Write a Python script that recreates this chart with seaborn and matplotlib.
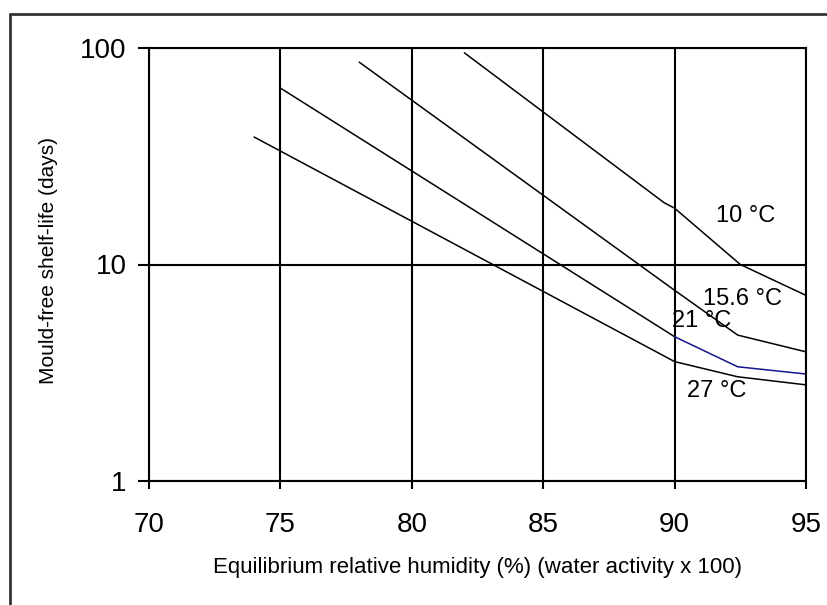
import matplotlib
matplotlib.use("Agg")
import matplotlib.pyplot as plt
from matplotlib.lines import Line2D
import seaborn as sns
import pandas as pd

# data
erh_10 = [82.0, 89.6, 90.0, 92.5, 95.0]
life_10 = [95.0, 19.3, 18.2, 10.0, 7.2]
erh_156 = [78.0, 90.0, 92.4, 95.0]
life_156 = [86.0, 7.6, 4.72, 3.95]
erh_21 = [75.0, 90.0, 92.4, 95.0]
life_21 = [65.3, 4.64, 3.37, 3.12]
erh_27 = [74.0, 90.0, 92.4, 95.0]
life_27 = [38.8, 3.56, 3.03, 2.78]

labels = ["10 °C", "15.6 °C", "21 °C", "27 °C"]
label_x = [92.72, 92.60, 91.04, 91.61]
label_y = [16.75, 6.93, 5.48, 2.60]

x_ticks = [70, 75, 80, 85, 90, 95]
y_ticks = [1, 10, 100]

sns.set_style("white")
plt.rcParams["font.family"] = ["Liberation Sans", "DejaVu Sans"]
plt.rcParams["text.color"] = "black"
plt.rcParams["axes.labelcolor"] = "black"

fig = plt.figure(figsize=(8.28, 6.05), dpi=100)
ax = fig.add_axes([149/828, 1-481/605, (806-149)/828, (481-48)/605])

def draw(xs, ys, color):
    df = pd.DataFrame({"x": xs, "y": ys})
    sns.lineplot(data=df, x="x", y="y", ax=ax, color=color, lw=1.1,
                 sort=False, estimator=None)

draw(erh_10, life_10, "black")
draw(erh_156, life_156, "black")
draw(erh_21[:2], life_21[:2], "black")
draw(erh_21[1:], life_21[1:], "#14148c")
draw(erh_27, life_27, "black")

ax.set_yscale("log")
ax.set_xlim(70, 95)
ax.set_ylim(1, 100)
ax.set_xticks(x_ticks)
ax.set_xticklabels([str(v) for v in x_ticks])
ax.set_yticks(y_ticks)
ax.set_yticklabels([str(v) for v in y_ticks])
ax.minorticks_off()
ax.tick_params(axis="y", which="major", direction="out", length=8, width=1.5,
               labelsize=20, pad=8, left=True, color="black", labelcolor="black")
ax.tick_params(axis="x", which="major", direction="out", length=6, width=1.5,
               labelsize=20, pad=16, bottom=True, color="black", labelcolor="black")
ax.grid(True, which="major", color="black", lw=1.5)
ax.set_axisbelow(True)
for s in ax.spines.values():
    s.set_visible(True)
    s.set_color("black")
    s.set_linewidth(1.5)

ax.set_xlabel("Equilibrium relative humidity (%) (water activity x 100)",
              fontsize=16, labelpad=14, color="black")
ax.set_ylabel("Mould-free shelf-life (days)", fontsize=15, color="black")
ax.yaxis.set_label_coords(-0.139, 0.51)

for t, tx, ty in zip(labels, label_x, label_y):
    ax.text(tx, ty, t, fontsize=17, ha="center", va="center", color="black")

# figure frame (left and top edges)
fig.add_artist(Line2D([10/828, 10/828], [0, 1-14/605], transform=fig.transFigure,
                      color="#333333", lw=2))
fig.add_artist(Line2D([10/828, 1], [1-14/605, 1-14/605], transform=fig.transFigure,
                      color="#333333", lw=2))

fig.savefig("out.png", dpi=100)
